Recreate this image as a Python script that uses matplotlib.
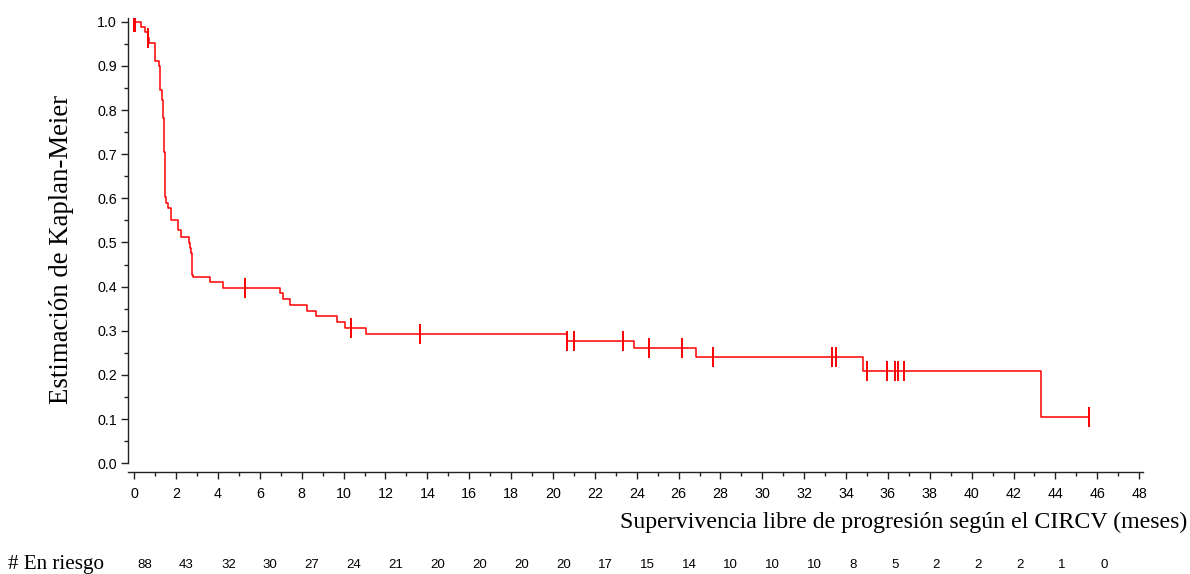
import numpy as np
import matplotlib
matplotlib.use("Agg")
import matplotlib.pyplot as plt
from matplotlib import transforms

# Kaplan-Meier step points (time in months, survival after the step)
step_times = [0.0, 0.30, 0.49, 0.65, 0.72, 1.00, 1.18, 1.21, 1.24, 1.32, 1.35, 1.39,
              1.42, 1.45, 1.48, 1.51, 1.63, 1.77, 2.07, 2.25, 2.61, 2.68, 2.73, 2.78,
              2.80, 3.64, 4.23, 6.94, 7.10, 7.43, 8.26, 8.66, 9.68, 10.06, 11.08,
              20.67, 23.86, 26.84, 34.82, 43.30]
step_surv = [1.0, 0.989, 0.977, 0.963, 0.951, 0.912, 0.899, 0.870, 0.845, 0.823, 0.808, 0.782,
             0.706, 0.630, 0.603, 0.589, 0.577, 0.551, 0.528, 0.512, 0.499, 0.488, 0.476, 0.426,
             0.4225, 0.411, 0.397, 0.385, 0.373, 0.359, 0.346, 0.333, 0.320, 0.307, 0.292,
             0.2775, 0.261, 0.241, 0.210, 0.1056]
end_time = 45.61

# censored observations (months)
censor_times = [0.0, 0.05, 0.65, 5.31, 10.37, 13.64, 20.67, 21.02, 23.33, 24.58, 26.17,
                27.64, 33.35, 33.51, 34.99, 35.96, 36.36, 36.49, 36.75, 45.61]

# number at risk
risk_times = list(range(0, 48, 2))
at_risk = [88, 43, 32, 30, 27, 24, 21, 20, 20, 20, 20, 17, 15, 14, 10, 10, 10, 8, 5, 2, 2, 2, 1, 0]

xlabel = "Supervivencia libre de progresión según el CIRCV (meses)"
ylabel = "Estimación de Kaplan-Meier"
risk_label = "# En riesgo"

serif = ["Liberation Serif", "DejaVu Serif"]
sans = ["Liberation Sans", "DejaVu Sans"]
plt.rcParams["font.family"] = sans

fig = plt.figure(figsize=(11.9, 5.74), dpi=100)
ax = fig.add_axes([128 / 1190, 1 - 463.3 / 574, (1142.7 - 128) / 1190, (463.3 - 17.5) / 574])

t = np.array(step_times + [end_time])
s = np.array(step_surv + [step_surv[-1]])
ax.step(t, s, where="post", color="#ff0000", lw=1.1, zorder=3)

ct = np.array(censor_times)
idx = np.searchsorted(np.array(step_times), ct, side="right") - 1
cs = np.array(step_surv)[idx]
ax.plot(ct, cs, linestyle="none", marker="|", markersize=15, markeredgewidth=1.4,
        color="#ff0000", zorder=4)

ax.set_xlim(-0.3, 48.17)
ax.set_ylim(0, 1.0095)
ax.set_xticks(np.arange(0, 49, 2))
ax.set_xticks(np.arange(1, 48, 2), minor=True)
ax.set_yticks(np.round(np.arange(0, 1.01, 0.1), 1))
ax.set_yticks(np.arange(0.05, 1.0, 0.1), minor=True)
ax.yaxis.set_major_formatter(matplotlib.ticker.FormatStrFormatter("%.1f"))

for sp in ["top", "right"]:
    ax.spines[sp].set_visible(False)
ax.spines["bottom"].set_position(("outward", 6))
for sp in ["left", "bottom"]:
    ax.spines[sp].set_linewidth(1.0)
    ax.spines[sp].set_color("#222222")
ax.tick_params(which="major", length=5, width=1.0, color="#222222", labelsize=10.3, pad=3)
ax.tick_params(which="minor", length=3, width=1.0, color="#222222")
ax.tick_params(axis="x", which="major", pad=6)

fig.text(1187 / 1190, 1 - 522 / 574, xlabel, ha="right", va="center",
         family=serif, fontsize=17.2)
fig.text(62 / 1190, 1 - 249 / 574, ylabel, ha="center", va="center", rotation=90,
         family=serif, fontsize=19.3)
fig.text(8 / 1190, 1 - 568.5 / 574, risk_label, ha="left", va="baseline",
         family=serif, fontsize=15.2)

trans = transforms.blended_transform_factory(ax.transData, fig.transFigure)
trans = trans + transforms.ScaledTranslation(3 / 100, 0, fig.dpi_scale_trans)
for x, n in zip(risk_times, at_risk):
    ax.text(x, 1 - 565 / 574, str(n), transform=trans, ha="left", va="center",
            fontsize=9.5, clip_on=False)

fig.savefig("out.png", dpi=100)
